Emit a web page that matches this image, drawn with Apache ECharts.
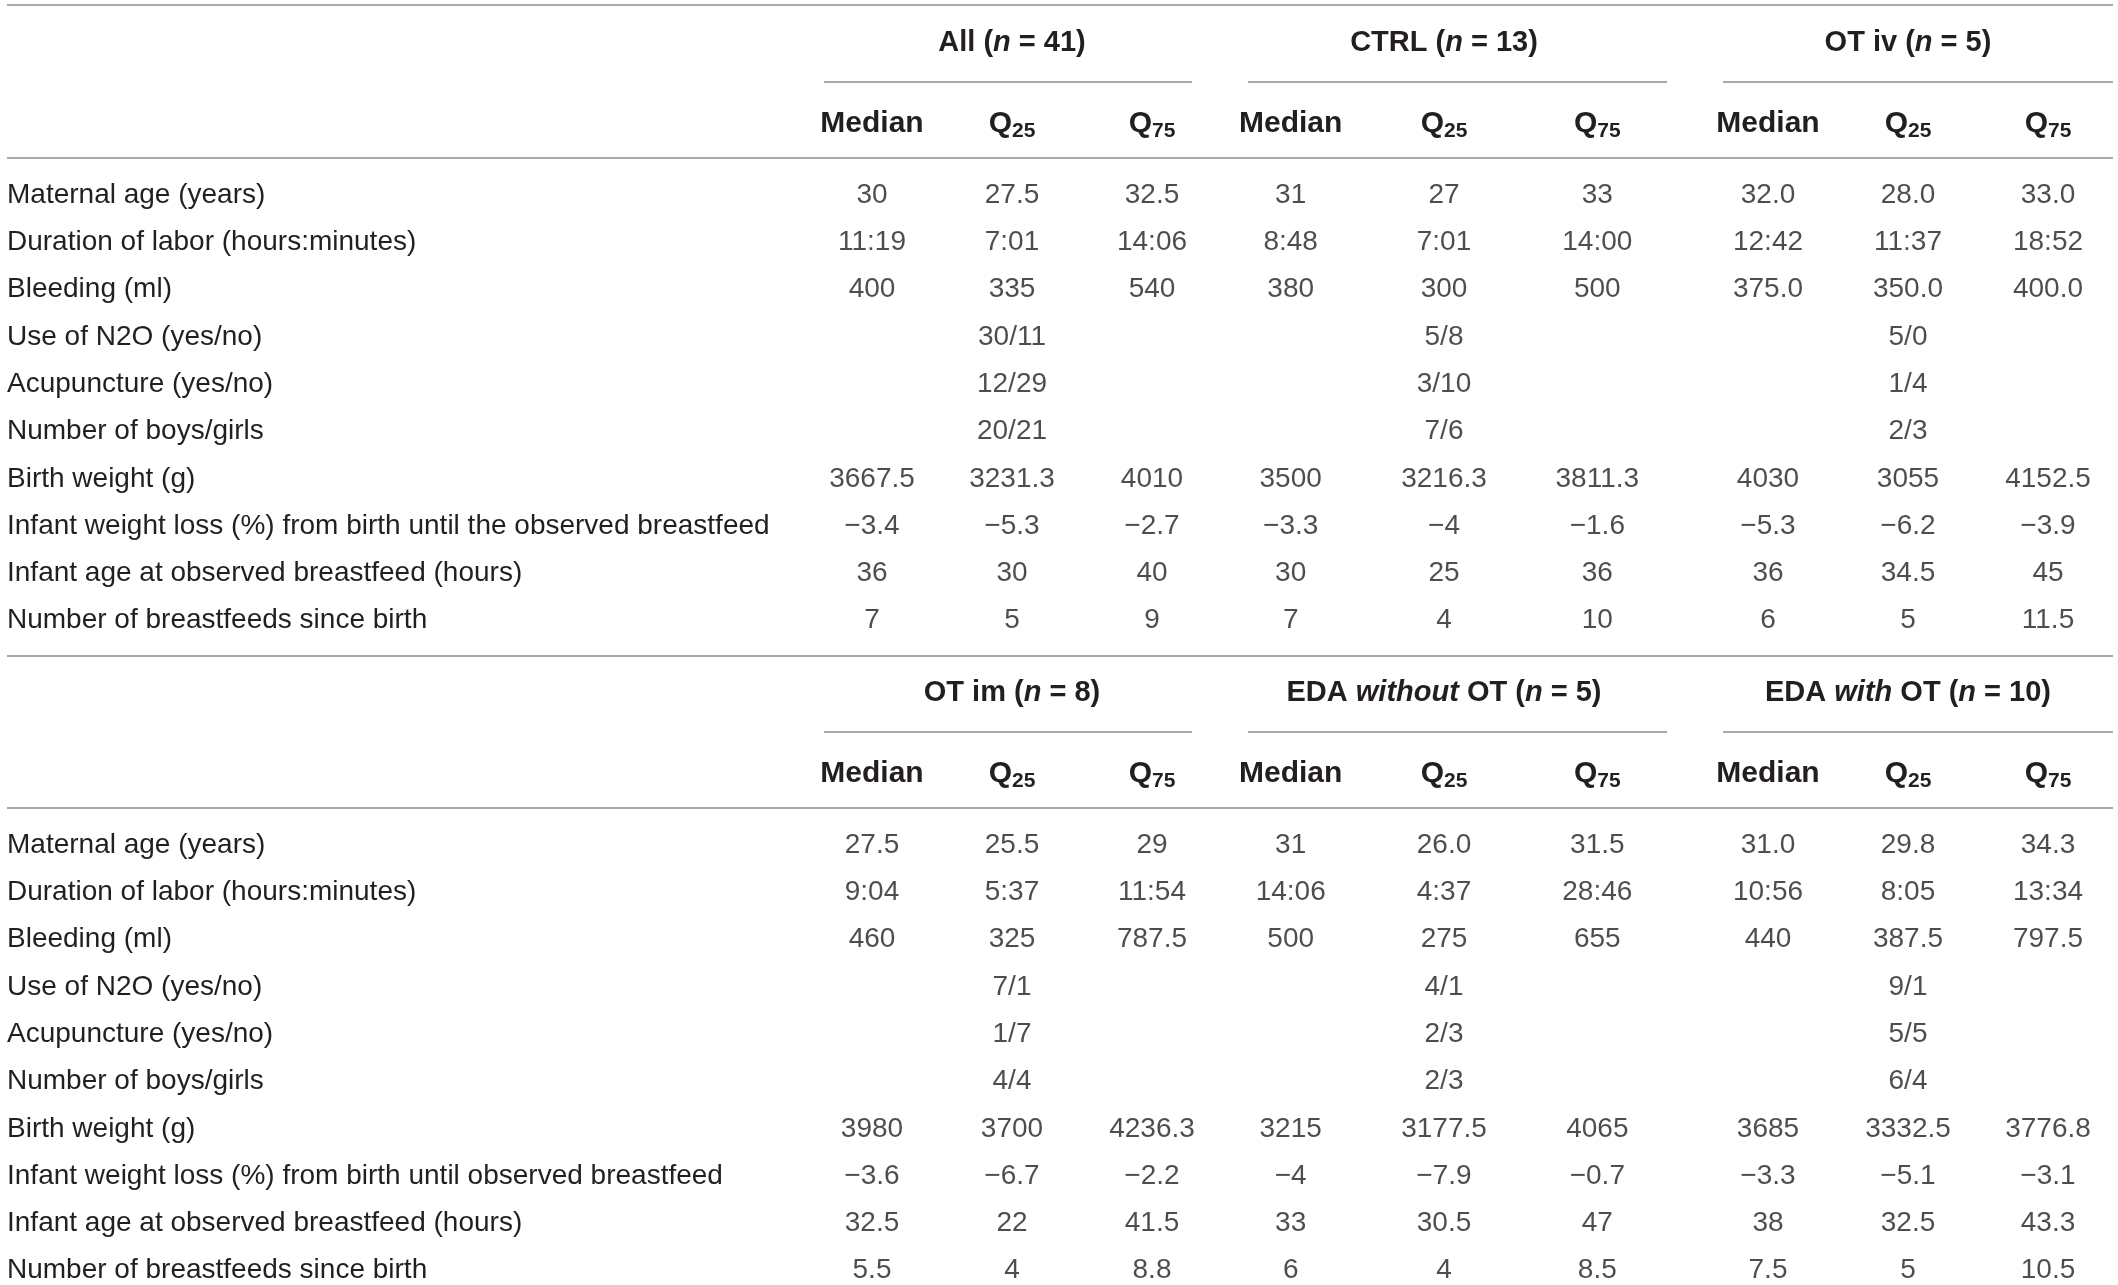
<!DOCTYPE html>
<html>
<head>
<meta charset="utf-8">
<script src="https://cdn.jsdelivr.net/npm/echarts@6/dist/echarts.min.js"></script>
<style>
  html, body { margin: 0; padding: 0; background: #fff; }
  #table { width: 2118px; height: 1285px; }
</style>
</head>
<body>
<div id="table"></div>
<script>
// row labels of the two halves
const rowsTop = [
  'Maternal age (years)',
  'Duration of labor (hours:minutes)',
  'Bleeding (ml)',
  'Use of N2O (yes/no)',
  'Acupuncture (yes/no)',
  'Number of boys/girls',
  'Birth weight (g)',
  'Infant weight loss (%) from birth until the observed breastfeed',
  'Infant age at observed breastfeed (hours)',
  'Number of breastfeeds since birth'
]
const rowsBottom = [
  'Maternal age (years)',
  'Duration of labor (hours:minutes)',
  'Bleeding (ml)',
  'Use of N2O (yes/no)',
  'Acupuncture (yes/no)',
  'Number of boys/girls',
  'Birth weight (g)',
  'Infant weight loss (%) from birth until observed breastfeed',
  'Infant age at observed breastfeed (hours)',
  'Number of breastfeeds since birth'
]
const statCols = ['Median', 'Q25', 'Q75']
const groupNames = ['All', 'CTRL', 'OT iv', 'OT im', 'EDA without OT', 'EDA with OT']
const groupN = [41, 13, 5, 8, 5, 10]

// cell values ('' = empty cell)
const allMedian = ['30', '11:19', '400', '', '', '', '3667.5', '−3.4', '36', '7']
const allQ25 = ['27.5', '7:01', '335', '30/11', '12/29', '20/21', '3231.3', '−5.3', '30', '5']
const allQ75 = ['32.5', '14:06', '540', '', '', '', '4010', '−2.7', '40', '9']
const ctrlMedian = ['31', '8:48', '380', '', '', '', '3500', '−3.3', '30', '7']
const ctrlQ25 = ['27', '7:01', '300', '5/8', '3/10', '7/6', '3216.3', '−4', '25', '4']
const ctrlQ75 = ['33', '14:00', '500', '', '', '', '3811.3', '−1.6', '36', '10']
const otIvMedian = ['32.0', '12:42', '375.0', '', '', '', '4030', '−5.3', '36', '6']
const otIvQ25 = ['28.0', '11:37', '350.0', '5/0', '1/4', '2/3', '3055', '−6.2', '34.5', '5']
const otIvQ75 = ['33.0', '18:52', '400.0', '', '', '', '4152.5', '−3.9', '45', '11.5']
const otImMedian = ['27.5', '9:04', '460', '', '', '', '3980', '−3.6', '32.5', '5.5']
const otImQ25 = ['25.5', '5:37', '325', '7/1', '1/7', '4/4', '3700', '−6.7', '22', '4']
const otImQ75 = ['29', '11:54', '787.5', '', '', '', '4236.3', '−2.2', '41.5', '8.8']
const edaNoOtMedian = ['31', '14:06', '500', '', '', '', '3215', '−4', '33', '6']
const edaNoOtQ25 = ['26.0', '4:37', '275', '4/1', '2/3', '2/3', '3177.5', '−7.9', '30.5', '4']
const edaNoOtQ75 = ['31.5', '28:46', '655', '', '', '', '4065', '−0.7', '47', '8.5']
const edaOtMedian = ['31.0', '10:56', '440', '', '', '', '3685', '−3.3', '38', '7.5']
const edaOtQ25 = ['29.8', '8:05', '387.5', '9/1', '5/5', '6/4', '3332.5', '−5.1', '32.5', '5']
const edaOtQ75 = ['34.3', '13:34', '797.5', '', '', '', '3776.8', '−3.1', '43.3', '10.5']

const groupStats = [
  [allMedian, allQ25, allQ75],
  [ctrlMedian, ctrlQ25, ctrlQ75],
  [otIvMedian, otIvQ25, otIvQ75],
  [otImMedian, otImQ25, otImQ75],
  [edaNoOtMedian, edaNoOtQ25, edaNoOtQ75],
  [edaOtMedian, edaOtQ25, edaOtQ75]
]

// layout
const FONT = '"Liberation Sans", Arial, sans-serif'
const INK = '#231f20'
const RULE = '#8c8c8c'
const colLeft = [802, 1214, 1698] // group block left edges
const colWidth = [420, 460, 432]
const underline = [[824, 1192], [1248, 1667], [1723, 2113]]
const firstRowY = [195, 845] // centre of first body row per half
const rowStep = 47.3
const sectionRows = [rowsTop, rowsBottom]

const grid = [], xAxis = [], yAxis = [], series = []
const headRich = {
  b: { fontFamily: FONT, fontWeight: 'bold', fontSize: 29, color: INK, lineHeight: 36, verticalAlign: 'middle' },
  i: { fontFamily: FONT, fontWeight: 'bold', fontStyle: 'italic', fontSize: 29, color: INK, lineHeight: 36, verticalAlign: 'middle' },
  m: { fontFamily: FONT, fontWeight: 'bold', fontSize: 30, color: INK, lineHeight: 36, verticalAlign: 'middle' },
  s: { fontFamily: FONT, fontWeight: 'bold', fontSize: 21, color: INK, lineHeight: 21, verticalAlign: 'bottom' }
}
const groupLabel = (name, n) => {
  const words = name.split(' ').map(w => (w === 'with' || w === 'without') ? '{i|' + w + '}' : '{b|' + w + '}')
  return words.join('{b| }') + '{b| (}{i|n}{b| = ' + n + ')}'
}
const statLabel = s => s === 'Median' ? '{m|Median}' : '{m|Q}{s|' + s.slice(1) + '}'

for (let g = 0; g < 6; g++) {
  const sec = g < 3 ? 0 : 1
  const k = g % 3
  const rows = sectionRows[sec]
  grid.push({ left: colLeft[k], width: colWidth[k], top: firstRowY[sec], height: rowStep * (rows.length - 1) })
  // stat header axis
  xAxis.push({
    type: 'category', gridIndex: g, position: 'top', data: statCols,
    axisLine: { show: false }, axisTick: { show: false },
    axisLabel: { margin: 71, verticalAlign: 'middle', formatter: statLabel, rich: headRich }
  })
  // group header axis
  xAxis.push({
    type: 'category', gridIndex: g, position: 'top', data: [groupNames[g]],
    axisLine: { show: false }, axisTick: { show: false },
    axisLabel: { margin: 152, verticalAlign: 'middle', formatter: v => groupLabel(v, groupN[g]), rich: headRich }
  })
  yAxis.push({
    type: 'category', gridIndex: g, data: rows, inverse: true, boundaryGap: false,
    axisLine: { show: false }, axisTick: { show: false }, splitLine: { show: false },
    axisLabel: {
      show: k === 0, align: 'left', margin: colLeft[0] - 7, verticalAlign: 'middle',
      fontFamily: FONT, fontSize: 28, color: INK
    }
  })
  statCols.forEach((c, j) => {
    const vals = groupStats[g][j]
    series.push({
      type: 'scatter', xAxisIndex: g * 2, yAxisIndex: g,
      symbolSize: 1, itemStyle: { color: 'rgba(0,0,0,0)' },
      silent: true,
      data: vals.map((v, r) => [c, rows[r], v]).filter(d => d[2] !== ''),
      label: {
        show: true, position: 'inside', formatter: p => p.value[2],
        fontFamily: FONT, fontSize: 28, color: INK
      }
    })
  })
}

// horizontal rules
const hline = (x1, x2, y) => ({
  type: 'line', shape: { x1, y1: y, x2, y2: y },
  style: { stroke: RULE, lineWidth: 1.6 }, silent: true
})
const graphic = [
  hline(7, 2113, 5), hline(7, 2113, 158), hline(7, 2113, 656), hline(7, 2113, 808)
]
underline.forEach(u => { graphic.push(hline(u[0], u[1], 82)); graphic.push(hline(u[0], u[1], 732)) })

const chart = echarts.init(document.getElementById('table'), null, { renderer: 'canvas' })
chart.setOption({
  backgroundColor: '#fff',
  animation: false,
  grid, xAxis, yAxis, series, graphic
})
</script>
</body>
</html>
